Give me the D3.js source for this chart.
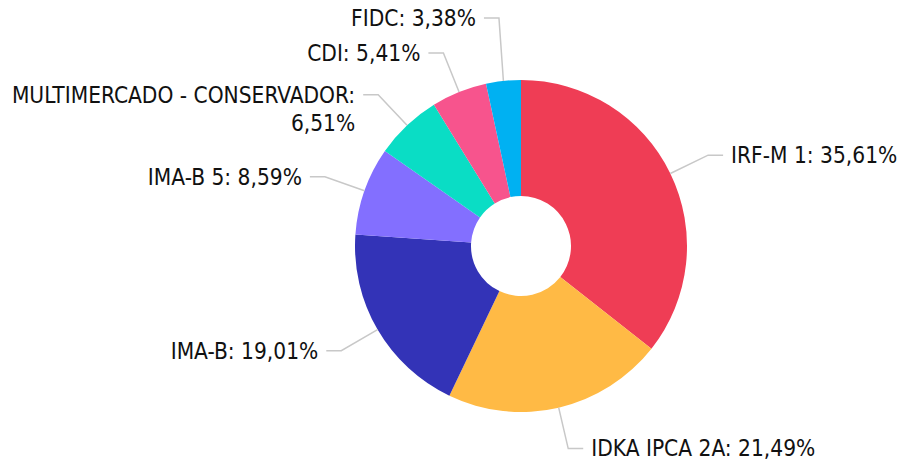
<!DOCTYPE html>
<html>
<head>
<meta charset="utf-8">
<script src="https://cdn.jsdelivr.net/npm/d3@7"></script>
<style>
  body { margin: 0; background: #fff; }
  text { font-family: "DejaVu Sans Condensed", "DejaVu Sans", sans-serif; }
</style>
</head>
<body>
<div id="chart"></div>
<script>
// dados da carteira
var categorias = ["IRF-M 1", "IDKA IPCA 2A", "IMA-B", "IMA-B 5", "MULTIMERCADO - CONSERVADOR", "CDI", "FIDC"];
var valores = [35.61, 21.49, 19.01, 8.59, 6.51, 5.41, 3.38];
var cores = ["#EF3D55", "#FFBA45", "#3333B7", "#836FFF", "#0ADDC5", "#F7548D", "#00B1F2"];

var width = 904, height = 463;
var cx = 521, cy = 246, outerR = 166, innerR = 50;

var data = categorias.map(function(c, i) { return {name: c, value: valores[i]}; });

var svg = d3.select("#chart").append("svg")
    .attr("width", width)
    .attr("height", height);

var g = svg.append("g")
    .attr("transform", "translate(" + cx + "," + cy + ")");

var color = d3.scaleOrdinal().domain(categorias).range(cores);

var pie = d3.pie()
    .value(function(d) { return d.value; })
    .sort(null);

var arc = d3.arc().innerRadius(innerR).outerRadius(outerR);

var arcs = pie(data);

g.selectAll("path.slice")
    .data(arcs)
    .enter().append("path")
    .attr("class", "slice")
    .attr("d", arc)
    .attr("fill", function(d) { return color(d.data.name); });

// labels
var fmt = function(v) { return v.toFixed(2).replace(".", ",") + "%"; };
var lineR = outerR + 42, segLen = 15, gap = 8, minGap = 35, fontSize = 22.5, lineH = 28;

var labels = arcs.map(function(d) {
    var a = (d.startAngle + d.endAngle) / 2;
    return {
        d: d,
        a: a,
        right: Math.sin(a) >= 0,
        p0: [outerR * Math.sin(a), -outerR * Math.cos(a)],
        ex: lineR * Math.sin(a),
        ey: -lineR * Math.cos(a),
        text: d.data.name + ": " + fmt(d.data.value)
    };
});

// tira sobreposição em cada lado (de baixo pra cima)
[true, false].forEach(function(side) {
    var ls = labels.filter(function(l) { return l.right === side; })
        .sort(function(a, b) { return b.ey - a.ey; });
    for (var i = 1; i < ls.length; i++) {
        if (ls[i - 1].ey - ls[i].ey < minGap) ls[i].ey = ls[i - 1].ey - minGap;
    }
});

var lg = g.append("g");

labels.forEach(function(l) {
    var dir = l.right ? 1 : -1;
    var x2 = l.ex + dir * segLen;
    lg.append("polyline")
        .attr("points", [l.p0, [l.ex, l.ey], [x2, l.ey]].map(function(p) { return p.join(","); }).join(" "))
        .attr("fill", "none")
        .attr("stroke", "#c8c8c8")
        .attr("stroke-width", 1.5);

    var tx = x2 + dir * gap;
    var t = lg.append("text")
        .attr("x", tx)
        .attr("y", l.ey)
        .attr("dy", "0.35em")
        .attr("text-anchor", l.right ? "start" : "end")
        .attr("font-size", fontSize)
        .attr("fill", "#111")
        .text(l.text);

    // quebra de linha se não couber
    var avail = l.right ? (width - cx - tx - 4) : (cx + tx - 4);
    if (t.node().getComputedTextLength() > avail) {
        var words = l.text.split(" ");
        t.text(null);
        var line = [], lines = [];
        var tmp = lg.append("text").attr("font-size", fontSize);
        words.forEach(function(w) {
            line.push(w);
            tmp.text(line.join(" "));
            if (tmp.node().getComputedTextLength() > avail && line.length > 1) {
                line.pop();
                lines.push(line.join(" "));
                line = [w];
            }
        });
        lines.push(line.join(" "));
        tmp.remove();
        lines.forEach(function(s, k) {
            t.append("tspan")
                .attr("x", tx)
                .attr("dy", k === 0 ? "0.35em" : lineH)
                .text(s);
        });
    }
});
</script>
</body>
</html>
